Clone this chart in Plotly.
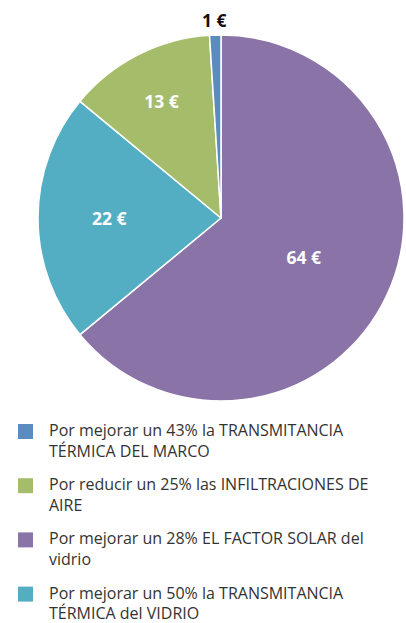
import math
import plotly.graph_objects as go

labels = [
    "Por mejorar un 28% EL FACTOR SOLAR del<br>vidrio",
    "Por mejorar un 50% la TRANSMITANCIA<br>TÉRMICA del VIDRIO",
    "Por reducir un 25% las INFILTRACIONES DE<br>AIRE",
    "Por mejorar un 43% la TRANSMITANCIA<br>TÉRMICA DEL MARCO",
]
values = [64, 22, 13, 1]
colors = ["#8a74a7", "#53aec4", "#a5bd6a", "#5a8cc0"]
text_pos = ["inside", "inside", "inside", "none"]
legend_order = [3, 2, 0, 1]

W, H = 406, 623
FONT = "Open Sans"
CX, CY, R = 221, 218, 183  # pie centre / radius in pixels

fig = go.Figure()
fig.add_trace(go.Pie(
    labels=labels, values=values, sort=False, direction="clockwise", rotation=0,
    marker=dict(colors=colors, line=dict(color="white", width=1.5)),
    texttemplate="%{value} €", textposition=text_pos,
    insidetextorientation="horizontal",
    insidetextfont=dict(family=FONT, size=17.5, color="white", weight="bold"),
    showlegend=False, hoverinfo="label+value",
    domain=dict(x=[(CX - R) / W, (CX + R) / W], y=[1 - (CY + R) / H, 1 - (CY - R) / H]),
))

# outside label for the slices marked "none" (placed from the data angle)
total = sum(values)
annots = []
cum = 0
for v, tp in zip(values, text_pos):
    mid = (cum + v / 2) / total * 2 * math.pi
    cum += v
    if tp == "none":
        rr = R * 1.08
        annots.append(dict(xref="paper", yref="paper",
                           x=(CX + rr * math.sin(mid)) / W, y=1 - (CY - rr * math.cos(mid)) / H,
                           xanchor="center", yanchor="middle", showarrow=False,
                           text=f"{v} €", font=dict(family=FONT, size=17.5, color="#111111", weight="bold")))

shapes = []
y0 = 430
for k, i in enumerate(legend_order):
    yc = y0 + k * 54.2
    shapes.append(dict(type="rect", xref="paper", yref="paper",
                       x0=18 / W, x1=33 / W, y0=1 - (yc - 6) / H, y1=1 - (yc + 9) / H,
                       fillcolor=colors[i], line=dict(width=0)))
    for j, line in enumerate(labels[i].split("<br>")):
        annots.append(dict(xref="paper", yref="paper", x=47 / W, y=1 - (yc + 20.8 * j) / H,
                           xanchor="left", yanchor="middle", align="left", showarrow=False,
                           text=line, font=dict(family=FONT, size=16, color="#333333")))

fig.update_layout(width=W, height=H, margin=dict(l=0, r=0, t=0, b=0),
                  paper_bgcolor="white", plot_bgcolor="white",
                  shapes=shapes, annotations=annots)
fig.write_html("out.html", config={"displayModeBar": False},
               post_script="document.body.style.margin='0';")
